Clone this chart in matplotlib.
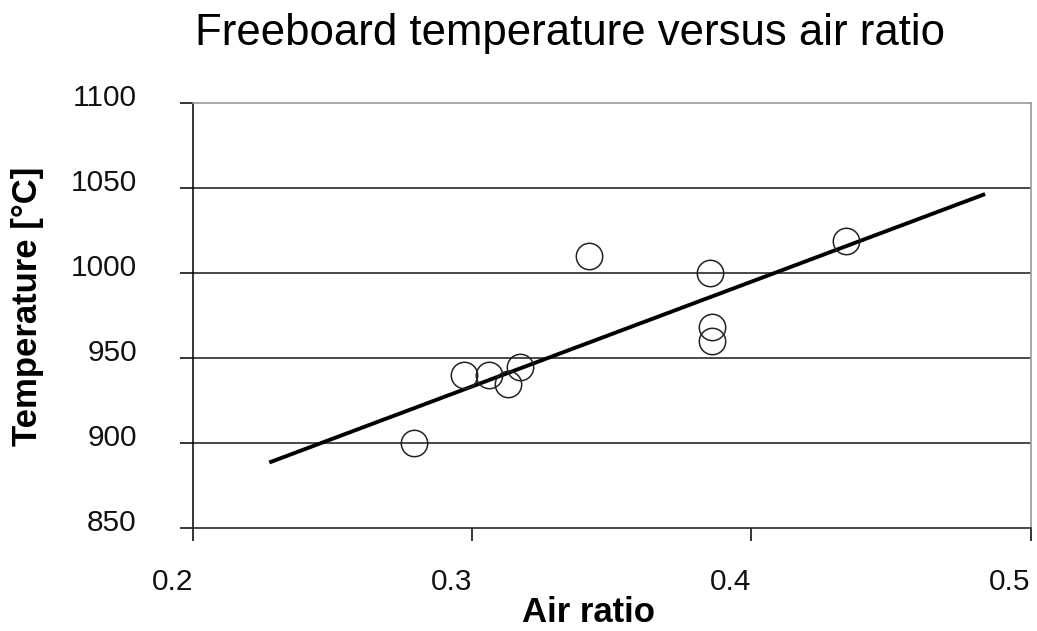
import numpy as np
import matplotlib
matplotlib.use("Agg")
import matplotlib.pyplot as plt
import matplotlib.transforms as mtransforms

air_ratio = [0.279, 0.297, 0.306, 0.313, 0.317, 0.342, 0.385, 0.386, 0.386, 0.434]
temperature = [900, 940, 940, 935, 945, 1010, 1000, 968, 960, 1019]

# trend line end points
trend_x = [0.228, 0.483]
trend_y = [889, 1046]

x_ticks = [0.2, 0.3, 0.4, 0.5]
y_ticks = [850, 900, 950, 1000, 1050, 1100]

plt.rcParams['font.family'] = ['Liberation Sans', 'DejaVu Sans']

fig = plt.figure(figsize=(10.37, 6.31), dpi=100)
ax = fig.add_axes([0.186, 0.163, 0.808, 0.674])

ax.plot(trend_x, trend_y, color='black', linewidth=2.8, zorder=3)
ax.plot(air_ratio, temperature, linestyle='none', marker='o', markersize=19,
        markerfacecolor='none', markeredgecolor='#222222', markeredgewidth=1.1, zorder=4)

ax.set_xlim(0.2, 0.5)
ax.set_ylim(850, 1100)
ax.set_xticks(x_ticks)
ax.set_yticks(y_ticks)
ax.set_xticklabels([f"{v:.1f}" for v in x_ticks], ha='right')
ax.set_yticklabels([str(v) for v in y_ticks])

# horizontal gridlines (Excel style)
for yv in y_ticks[1:-1]:
    ax.axhline(yv, color='#2a2a2a', linewidth=1.2, zorder=1)

ax.spines['left'].set_color('black')
ax.spines['left'].set_linewidth(1.1)
ax.spines['bottom'].set_color('#2a2a2a')
ax.spines['bottom'].set_linewidth(1.2)
ax.spines['top'].set_color('#999999')
ax.spines['right'].set_color('#999999')
ax.spines['top'].set_linewidth(1.2)
ax.spines['right'].set_linewidth(1.2)

ax.tick_params(axis='both', direction='out', length=9.4, width=1.1, color='black',
               labelsize=21.5, labelcolor='#111111')
ax.tick_params(axis='y', pad=31)
ax.tick_params(axis='x', pad=19)

# y tick labels sit a little above their gridline
shift = mtransforms.ScaledTranslation(0, 0.08, fig.dpi_scale_trans)
for lab in ax.get_yticklabels():
    lab.set_transform(lab.get_transform() + shift)

ax.set_title('Freeboard temperature versus air ratio', fontsize=31.5,
             x=0.45, y=1.1365, va='baseline', pad=0)

ax.set_xlabel('Air ratio', fontsize=25, fontweight='bold')
ax.xaxis.label.set_verticalalignment('baseline')
ax.xaxis.set_label_coords(0.4726, -0.2212)

ax.set_ylabel('Temperature [°C]', fontsize=25, fontweight='bold')
ax.yaxis.label.set_verticalalignment('center')
ax.yaxis.label.set_horizontalalignment('center')
ax.yaxis.set_label_coords(-0.197, 0.522)

fig.savefig('out.png', dpi=100)
